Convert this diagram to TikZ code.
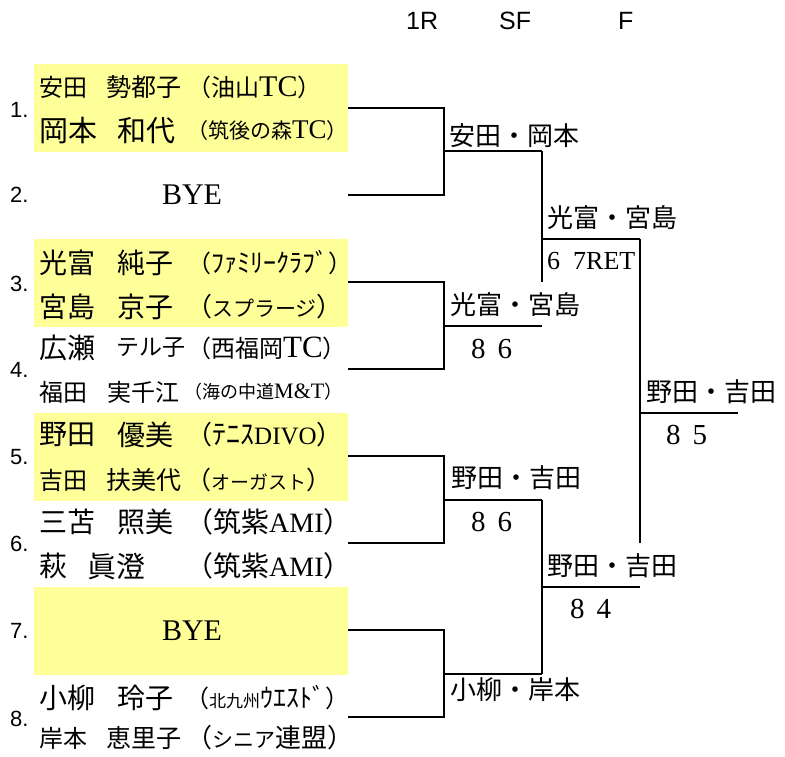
\documentclass[tikz,border=0pt]{standalone}
\usepackage{fontspec}
\setmainfont{Liberation Serif}
\setsansfont{Liberation Sans}
\newfontfamily\jp{Noto Sans CJK JP}
\newcommand\fs[1]{\fontsize{#1}{#1}\selectfont}
\newcommand\J[1]{{\jp #1}}
\definecolor{hl}{RGB}{255,255,153}
\tikzset{
  t/.style={inner sep=0pt,anchor=west},
  jn/.style={t,font=\jp\fs{#1}},
  num/.style={t,font=\sffamily\fs{22}},
  hdr/.style={t,font=\sffamily\fs{25}},
  br/.style={line width=1.1pt,black},
  win/.style={t,font=\jp\fs{26}},
  sc/.style={t,font=\rmfamily\fs{29}},
  bye/.style={inner sep=0pt,font=\rmfamily\fs{30}}
}
\begin{document}
\begin{tikzpicture}[x=1pt,y=-1pt]
\useasboundingbox (0,0) rectangle (785,756);
\fill[white] (0,0) rectangle (785,756);
% highlight boxes
\fill[hl] (34,64) rectangle (348,152);
\fill[hl] (34,239) rectangle (348,327);
\fill[hl] (34,413) rectangle (348,501);
\fill[hl] (34,587) rectangle (348,675);
% headers
\node[hdr] (h1) at (406,21) {1R};
\node[hdr] (h2) at (499,21) {SF};
\node[hdr] (h3) at (618,21) {F};
% entry numbers
\node[num] (n1) at (10,110) {1.};
\node[num] (n2) at (10,195) {2.};
\node[num] (n3) at (10,284) {3.};
\node[num] (n4) at (10,370) {4.};
\node[num] (n5) at (10,457) {5.};
\node[num] (n6) at (10,544) {6.};
\node[num] (n7) at (10,631) {7.};
\node[num] (n8) at (10,719) {8.};
% entry 1
\node[jn=24] (s1a) at (39,87) {安田};
\node[jn=25] (g1a) at (106,87) {勢都子};
\node[t] (c1a) at (187,87) {\fs{24}\J{（油山}{\fs{30}TC}\J{）}};
\node[jn=29] (s1b) at (39,131) {岡本};
\node[jn=29] (g1b) at (117,131) {和代};
\node[t] (c1b) at (187,131) {\fs{21}\J{（筑後の森}{\fs{27}TC}\J{）}};
% entry 2
\node[bye] (bye2) at (192,195) {BYE};
% entry 3
\node[jn=28] (s3a) at (39,263) {光富};
\node[jn=28] (g3a) at (117,263) {純子};
\node[t] (c3a) at (187,263) {\fs{24}\J{（}{\fs{26}\J{ﾌｧﾐﾘｰｸﾗﾌﾞ}}\J{）}};
\node[jn=28] (s3b) at (39,307) {宮島};
\node[jn=28] (g3b) at (117,307) {京子};
\node[t] (c3b) at (186,307) {\fs{26}\J{（}{\fs{21}\J{スプラージ}}\J{）}};
% entry 4
\node[jn=28] (s4a) at (39,348) {広瀬};
\node[jn=23] (g4a) at (116,348) {テル子};
\node[t] (c4a) at (187,348) {\fs{24}\J{（西福岡}{\fs{31}TC}\J{）}};
\node[jn=24] (s4b) at (39,392) {福田};
\node[jn=24] (g4b) at (107,392) {実千江};
\node[t] (c4b) at (184,392) {\fs{18}\J{（海の中道}{\fs{22}M\&T}\J{）}};
% entry 5
\node[jn=28] (s5a) at (39,435) {野田};
\node[jn=28] (g5a) at (117,435) {優美};
\node[t] (c5a) at (186,435) {\fs{26}\J{（}{\fs{28}\J{ﾃﾆｽ}}{\fs{25}DIVO}\J{）}};
\node[jn=24] (s5b) at (39,480) {吉田};
\node[jn=25] (g5b) at (106,480) {扶美代};
\node[t] (c5b) at (186,480) {\fs{25}\J{（}{\fs{19}\J{オーガスト}}\J{）}};
% entry 6
\node[jn=28] (s6a) at (39,522) {三苫};
\node[jn=28] (g6a) at (117,522) {照美};
\node[t] (c6a) at (185,522) {\fs{28}\J{（筑紫}AMI\J{）}};
\node[jn=28] (s6b) at (39,566) {萩};
\node[jn=29] (g6b) at (87,566) {眞澄};
\node[t] (c6b) at (185,566) {\fs{28}\J{（筑紫}AMI\J{）}};
% entry 7
\node[bye] (bye7) at (192,631) {BYE};
% entry 8
\node[jn=28] (s8a) at (39,698) {小柳};
\node[jn=28] (g8a) at (117,698) {玲子};
\node[t] (c8a) at (185,698) {\fs{24}\J{（}{\fs{17}\J{北九州}}{\fs{26}\J{ｳｴｽﾄﾞ}}\J{）}};
\node[jn=24] (s8b) at (39,738) {岸本};
\node[jn=25] (g8b) at (106,738) {恵里子};
\node[t] (c8b) at (186,738) {\fs{26}\J{（}{\fs{21}\J{シニア}}\J{連盟）}};
% bracket coordinates
\coordinate (l1) at (348,108); \coordinate (k1) at (444,108);
\coordinate (l2) at (348,195);
\coordinate (m1) at (444,151); \coordinate (q1) at (542,151);
\coordinate (l3) at (348,282); \coordinate (k3) at (444,282);
\coordinate (l4) at (348,369);
\coordinate (m2) at (444,326); \coordinate (q2) at (542,326);
\coordinate (l5) at (348,456); \coordinate (k5) at (444,456);
\coordinate (l6) at (348,543);
\coordinate (m3) at (444,500); \coordinate (q3) at (542,500);
\coordinate (l7) at (348,630); \coordinate (k7) at (444,630);
\coordinate (l8) at (348,717);
\coordinate (m4) at (444,674); \coordinate (q4) at (542,674);
\coordinate (v1) at (542,282);
\coordinate (sa) at (542,239); \coordinate (sb) at (640,239);
\coordinate (sc) at (542,587); \coordinate (sd) at (640,587);
\coordinate (fv) at (640,543);
\coordinate (fa) at (640,413); \coordinate (fb) at (738,413);
% first round
\draw[br] (l1) -- (k1) |- (l2);
\draw[br] (m1) -- (q1);
\draw[br] (l3) -- (k3) |- (l4);
\draw[br] (m2) -- (q2);
\draw[br] (l5) -- (k5) |- (l6);
\draw[br] (m3) -- (q3);
\draw[br] (l7) -- (k7) |- (l8);
\draw[br] (m4) -- (q4);
% semifinal
\draw[br] (q1) -- (v1);
\draw[br] (sa) -- (sb);
\draw[br] (q3) -- (q4);
\draw[br] (sc) -- (sd);
% final
\draw[br] (sb) -- (fv);
\draw[br] (fa) -- (fb);
% winners and scores
\node[win] (w1) at (449,136) {安田・岡本};
\node[win] (w2) at (450,305) {光富・宮島};
\node[sc] (r2) at (471,349) {8\hspace{12pt}6};
\node[win] (w3) at (451,478) {野田・吉田};
\node[sc] (r3) at (471,522) {8\hspace{12pt}6};
\node[win] (w4) at (450,690) {小柳・岸本};
\node[win] (w5) at (547,218) {光富・宮島};
\node[t,font=\rmfamily\fs{26}] (r5) at (547,261) {6\ \ 7RET};
\node[win] (w6) at (547,566) {野田・吉田};
\node[sc] (r6) at (570,609) {8\hspace{12pt}4};
\node[win] (w7) at (646,392) {野田・吉田};
\node[sc] (r7) at (666,435) {8\hspace{12pt}5};
\end{tikzpicture}
\end{document}
